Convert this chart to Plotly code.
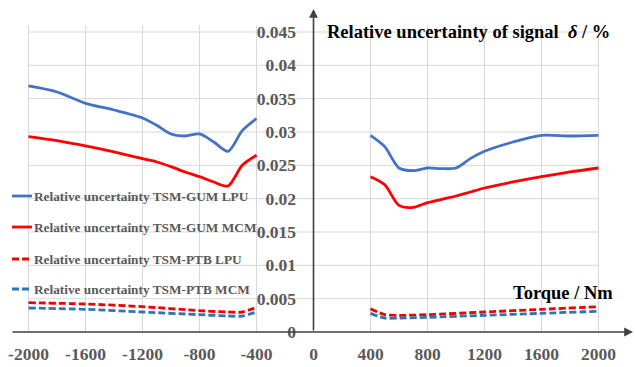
import plotly.graph_objects as go

# ---------------- data ----------------
torque_neg = [-2000, -1800, -1600, -1400, -1200, -1100, -1000, -900, -800, -700, -600, -500, -400]
torque_pos = [400, 500, 600, 700, 800, 900, 1000, 1100, 1200, 1400, 1600, 1800, 2000]
torque_neg_ptb = [-2000, -1600, -1200, -800, -600, -500, -400]
torque_pos_ptb = [400, 500, 600, 800, 1200, 1600, 2000]

gum_lpu_neg = [0.0369, 0.0360, 0.0343, 0.0333, 0.0321, 0.0310, 0.0297, 0.0294, 0.0297, 0.0285, 0.0271, 0.0302, 0.0320]
gum_lpu_pos = [0.0295, 0.0278, 0.0246, 0.0242, 0.0246, 0.0245, 0.0246, 0.0260, 0.0271, 0.0285, 0.0295, 0.0294, 0.0295]
gum_mcm_neg = [0.0293, 0.0287, 0.0279, 0.0270, 0.0260, 0.0255, 0.0248, 0.0240, 0.0233, 0.0225, 0.0219, 0.0250, 0.0265]
gum_mcm_pos = [0.0233, 0.0221, 0.0190, 0.0187, 0.0194, 0.0199, 0.0204, 0.0210, 0.0216, 0.0225, 0.0233, 0.0240, 0.0246]
ptb_lpu_neg = [0.0044, 0.0042, 0.0038, 0.0032, 0.0030, 0.0030, 0.0037]
ptb_lpu_pos = [0.0035, 0.0026, 0.0025, 0.0026, 0.0030, 0.0034, 0.0038]
ptb_mcm_neg = [0.0036, 0.0034, 0.0030, 0.0026, 0.0024, 0.0024, 0.0030]
ptb_mcm_pos = [0.0028, 0.0021, 0.0021, 0.0022, 0.0025, 0.0028, 0.0031]

series_names = [
    "Relative uncertainty TSM-GUM LPU",
    "Relative uncertainty TSM-GUM MCM",
    "Relative uncertainty TSM-PTB LPU",
    "Relative uncertainty TSM-PTB MCM",
]
x_ticks = [-2000, -1600, -1200, -800, -400, 0, 400, 800, 1200, 1600, 2000]
y_ticks = [0, 0.005, 0.01, 0.015, 0.02, 0.025, 0.03, 0.035, 0.04, 0.045]
y_ticktext = ["0", "0.005", "0.01", "0.015", "0.02", "0.025", "0.03", "0.035", "0.04", "0.045"]
y_title = "Relative uncertainty of signal  <i>δ</i> / %"
x_title = "Torque / Nm"

# ---------------- styling ----------------
W, H = 635, 367
ML, MR, MT, MB = 0, 0, 0, 35
X0_PX = 313.5          # pixel of torque 0
PX_PER_UNIT = 0.1425
PLOT_H = H - MT - MB   # 332
PX_PER_VAL = 6667.0
XR = [-X0_PX / PX_PER_UNIT, (W - X0_PX) / PX_PER_UNIT]
YR = [0, PLOT_H / PX_PER_VAL]

def px2x(px):
    return (px - X0_PX) / PX_PER_UNIT

def px2y(py):
    return (PLOT_H - py) / PX_PER_VAL

blue = "#4472C4"
red = "#FF0000"
blue_d = "#2E75B6"
red_d = "#F00000"
gray = "#595959"
grid = "#D9D9D9"
serif = "Liberation Serif"
dash = "7px,3px"

styles = [
    dict(color=blue, width=2.8),
    dict(color=red, width=2.8),
    dict(color=red_d, width=2.8, dash=dash),
    dict(color=blue_d, width=2.8, dash=dash),
]

data_sets = [
    (torque_neg, gum_lpu_neg, torque_pos, gum_lpu_pos),
    (torque_neg, gum_mcm_neg, torque_pos, gum_mcm_pos),
    (torque_neg_ptb, ptb_lpu_neg, torque_pos_ptb, ptb_lpu_pos),
    (torque_neg_ptb, ptb_mcm_neg, torque_pos_ptb, ptb_mcm_pos),
]

fig = go.Figure()

# gridlines
shapes = []
for yv in y_ticks:
    if yv == 0:
        continue
    shapes.append(dict(type="line", xref="x", yref="y", x0=-2000, x1=2000, y0=yv, y1=yv,
                       line=dict(color=grid, width=1), layer="below"))
for xv in x_ticks:
    if xv == 0:
        continue
    shapes.append(dict(type="line", xref="x", yref="y", x0=xv, x1=xv, y0=0, y1=0.046,
                       line=dict(color=grid, width=1), layer="below"))

for name, st, (xn, yn, xp, yp) in zip(series_names, styles, data_sets):
    fig.add_trace(go.Scatter(
        x=list(xn) + [None] + list(xp),
        y=list(yn) + [None] + list(yp),
        mode="lines", name=name, line=dict(shape="spline", smoothing=0.8, **st),
        connectgaps=False, showlegend=False, hoverinfo="skip",
    ))

annotations = []
# axes with arrows
annotations.append(dict(x=px2x(633), y=0, ax=px2x(11), ay=0, xref="x", yref="y", axref="x", ayref="y",
                        showarrow=True, arrowhead=2, arrowsize=1.1, arrowwidth=1.6, arrowcolor="#404040", text=""))
annotations.append(dict(x=0, y=px2y(9), ax=0, ay=0, xref="x", yref="y", axref="x", ayref="y",
                        showarrow=True, arrowhead=2, arrowsize=1.1, arrowwidth=1.6, arrowcolor="#404040", text=""))
# titles
annotations.append(dict(x=px2x(325), y=px2y(32), xref="x", yref="y", xanchor="left", yanchor="middle",
                        text="<b>" + y_title + "</b>", showarrow=False,
                        font=dict(family=serif, size=18.5, color="black")))
annotations.append(dict(x=px2x(615), y=px2y(293), xref="x", yref="y", xanchor="right", yanchor="middle",
                        text="<b>" + x_title + "</b>", showarrow=False,
                        font=dict(family=serif, size=18.5, color="black")))

# custom legend
legend_y = [196, 227, 259, 289]
for name, st, ly in zip(series_names, styles, legend_y):
    lw = dict(st)
    shapes.append(dict(type="line", xref="x", yref="y", x0=px2x(12), x1=px2x(32),
                       y0=px2y(ly), y1=px2y(ly), line=lw))
    annotations.append(dict(x=px2x(32), y=px2y(ly), xref="x", yref="y", xanchor="left", yanchor="middle",
                            text="<b>" + name + "</b>", showarrow=False,
                            font=dict(family=serif, size=13.3, color=gray)))

tickfont = dict(family=serif, size=17.5, color=gray, weight="bold")
fig.update_layout(
    width=W, height=H,
    margin=dict(l=ML, r=MR, t=MT, b=MB, autoexpand=False),
    paper_bgcolor="white", plot_bgcolor="white",
    showlegend=False,
    shapes=shapes, annotations=annotations,
    xaxis=dict(range=XR, tickvals=x_ticks, ticktext=[str(v) for v in x_ticks],
               showgrid=False, zeroline=False, showline=False,
               ticks="outside", ticklen=6, tickcolor="rgba(0,0,0,0)",
               tickfont=tickfont, fixedrange=True),
    yaxis=dict(range=YR, tickvals=y_ticks, ticktext=y_ticktext,
               anchor="free", position=X0_PX / W, side="left",
               showgrid=False, zeroline=False, showline=False,
               ticks="outside", ticklen=14, tickcolor="rgba(0,0,0,0)",
               tickfont=tickfont, fixedrange=True),
)

fig.write_html("out.html")
